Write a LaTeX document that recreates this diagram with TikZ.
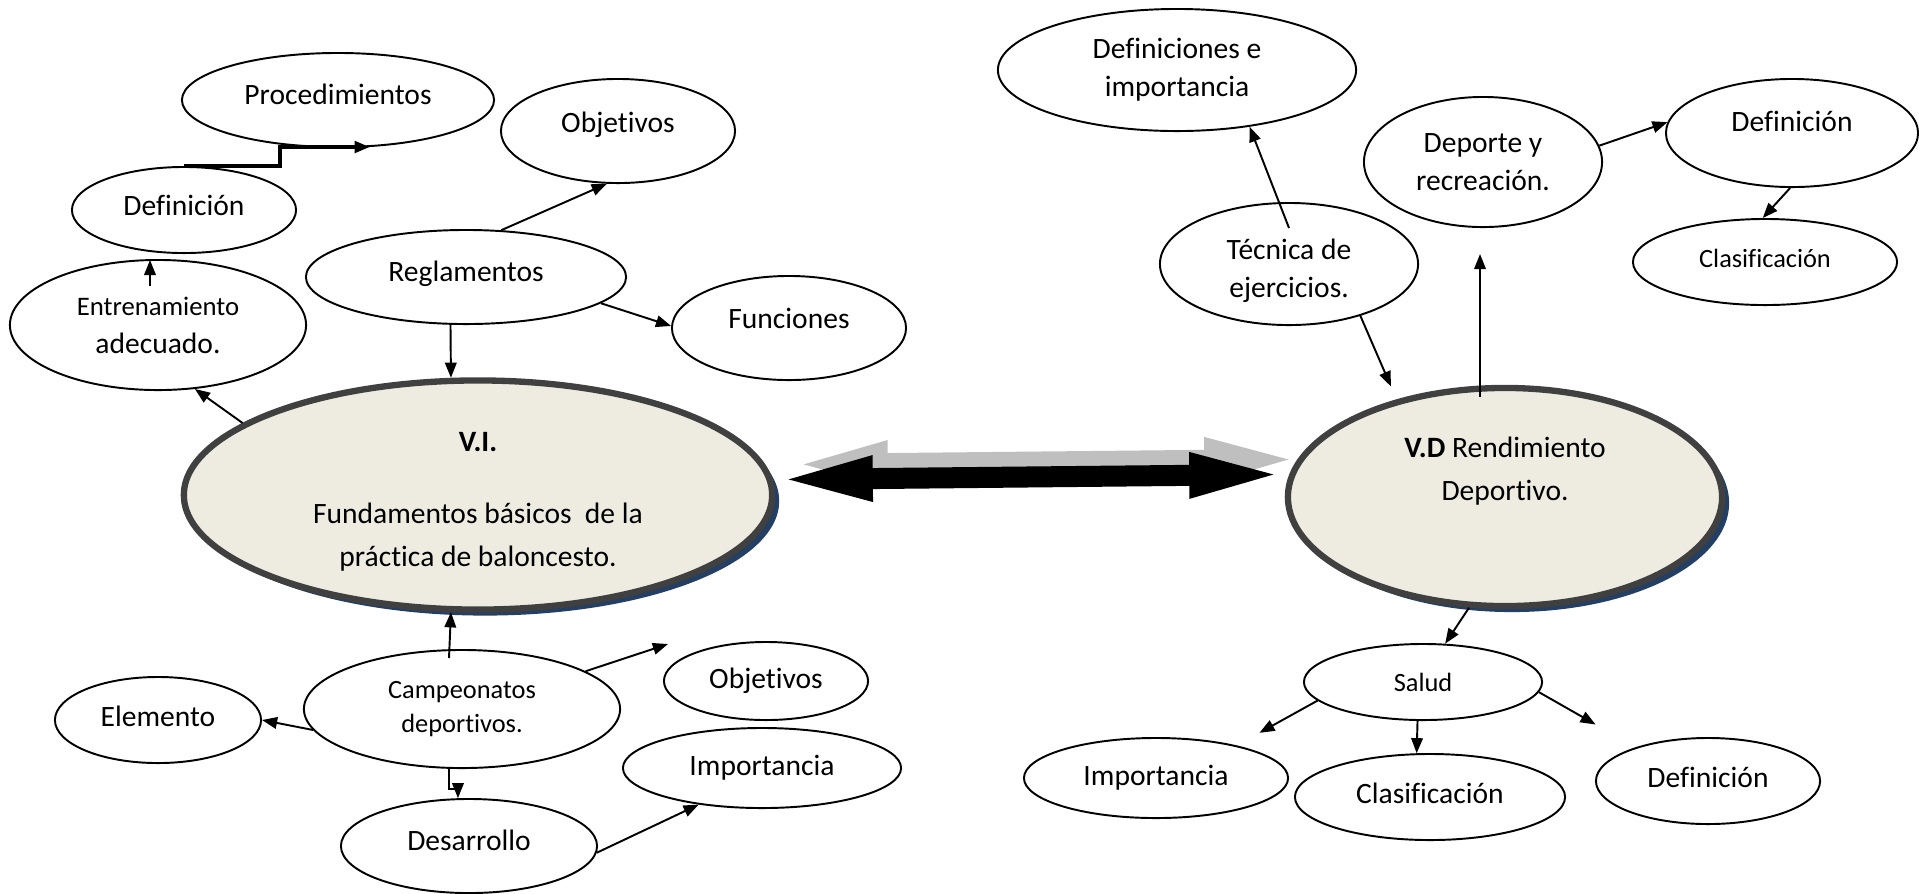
\documentclass[tikz,border=0pt]{standalone}
\usepackage{fontspec}
\setmainfont{Carlito}[Ligatures=NoCommon]
\usepackage{xcolor}
\usepackage{tikz}
\usetikzlibrary{positioning,arrows.meta,shapes.geometric,shadows,backgrounds}
\definecolor{coreclr}{RGB}{238,236,225}
\definecolor{rimclr}{RGB}{64,64,64}
\definecolor{shadeclr}{RGB}{36,63,100}
\definecolor{ghostclr}{RGB}{191,191,191}
\tikzset{
    bub/.style={ellipse,draw,line width=0.55pt,inner sep=0pt,align=center},
    sz/.style 2 args={minimum width=#1,minimum height=#2},
    lift/.style={text depth=#1},
    sink/.style={text height=#1},
    tiny/.style={font=\fontsize{7.5}{9.6}\selectfont},
    core/.style={bub,draw=rimclr,line width=1.8pt,fill=coreclr,
        drop shadow={shadow xshift=0.07cm,shadow yshift=-0.06cm,fill=shadeclr,opacity=1},
        font=\fontsize{8.4}{12.2}\selectfont},
    edge/.style={-{Triangle[length=4.3pt,width=3.3pt]},line width=0.55pt},
    link/.style={line width=0.21cm,{Triangle[length=1cm,width=0.39cm]}-{Triangle[length=1cm,width=0.39cm]}},
}

\begin{document}
\begin{tikzpicture}[x=0.01cm,y=-0.01cm,every node/.style={font=\fontsize{8.4}{10.8}\selectfont}]
\useasboundingbox (0,0) rectangle (1919,893);
% independent variable and its branches
\node[core,sink=1.48cm,sz={5.88cm}{2.29cm}] (vi) at (478,495) {\textbf{V.I.}\\[0.29cm]Fundamentos básicos \ de la\\práctica de baloncesto.};
\node[bub,lift=0.12cm,sz={3.12cm}{0.94cm}] (proc) at (338,100) {Procedimientos};
\node[bub,lift=0.18cm,sz={2.34cm}{1.04cm}] (obj1) at (618,131) {Objetivos};
\node[bub,lift=0.1cm,sz={2.24cm}{0.86cm}] (defl) at (184,210) {Definición};
\node[bub,lift=0.12cm,sz={3.20cm}{0.94cm}] (regl) at (466,277) {Reglamentos};
\node[bub,lift=0.2cm,sz={2.34cm}{1.04cm}] (func) at (789,328) {Funciones};
\node[bub,sz={2.96cm}{1.30cm}] (entr) at (158,325) {{\fontsize{7.6}{9}\selectfont Entrenamiento}\\adecuado.};
\node[bub,tiny,sz={3.16cm}{1.18cm}] (camp) at (462,709) {Campeonatos\\deportivos.};
\node[bub,sz={2.04cm}{0.78cm}] (obj2) at (766,681) {Objetivos};
\node[bub,lift=0.08cm,sz={2.06cm}{0.86cm}] (elem) at (158,720) {Elemento};
\node[bub,sz={2.78cm}{0.80cm}] (impl) at (762,768) {Importancia};
\node[bub,lift=0.12cm,sz={2.56cm}{0.94cm}] (desa) at (469,846) {Desarrollo};

% dependent variable and its branches
\node[core,sz={4.34cm}{2.18cm}] (vd) at (1505,497) {\textbf{V.D} Rendimiento\\Deportivo.\\[0.14cm]\mbox{}};
\node[bub,sz={3.58cm}{1.22cm}] (defi) at (1177,70) {Definiciones e\\importancia};
\node[bub,sink=0.72cm,sz={2.58cm}{1.22cm}] (tecn) at (1289,264) {Técnica de\\ejercicios.};
\node[bub,sz={2.38cm}{1.30cm}] (depo) at (1483,162) {Deporte y\\recreación.};
\node[bub,lift=0.24cm,sz={2.52cm}{1.08cm}] (defr) at (1792,133) {Definición};
\node[bub,tiny,lift=0.08cm,sz={2.64cm}{0.86cm}] (clar) at (1765,262) {Clasificación};
\node[bub,tiny,sz={2.38cm}{0.76cm}] (salu) at (1423,682) {Salud};
\node[bub,sz={2.64cm}{0.80cm}] (impr) at (1156,778) {Importancia};
\node[bub,lift=0.08cm,sz={2.70cm}{0.86cm}] (clab) at (1430,797) {Clasificación};
\node[bub,lift=0.08cm,sz={2.24cm}{0.86cm}] (defb) at (1708,781) {Definición};

\begin{scope}[on background layer]
\draw[link,ghostclr] ([shift={(15,-15)}]vi.3.5) -- ([shift={(15,-15)}]vd.174.7);
\draw[link,black] (vi.3.5) -- (vd.174.7);
\end{scope}

\draw[edge,line width=0.9pt] (defl.north) -- ++(96,0) |- (proc.304);
\draw[edge] (regl.53) -- (obj1.258);
\draw[edge] (regl.349) -- (func.179);
\draw[edge] (regl.252) -- (vi.103);
\draw[edge] ([shift={(-8,27)}]entr.north) -- ([shift={(-34,6)}]defl.south);
\draw[edge] (vi.163) -- (entr.300);
\draw[edge] ([shift={(-13,9)}]camp.north) -- (vi.257);
\draw[edge] (camp.17) -- ([shift={(5,-37)}]obj2.west);
\draw[edge] (camp.188) -- (elem.east);
\draw[edge] (camp.258) -- ++(0,20) -| (desa.103);
\draw[edge] (desa.357) -- (impl.210);

\draw[edge] ([shift={(0,26)}]tecn.north) -- (defi.322);
\draw[edge,shorten >=0.14cm] (tecn.324) -- (vd.138);
\draw[edge] ([shift={(-25,12)}]vd.north) -- ([shift={(-3,26)}]depo.south);
\draw[edge] (depo.8) -- (defr.175);
\draw[edge] (defr.268) -- (clar.93);
\draw[edge] (vd.252) -- (salu.60);
\draw[edge,shorten >=0.26cm] (salu.190) -- (impr.22);
\draw[edge] (salu.262) -- (clab.107);
\draw[edge,shorten >=0.46cm] (salu.355) -- (defb.155);
\end{tikzpicture}
\end{document}
